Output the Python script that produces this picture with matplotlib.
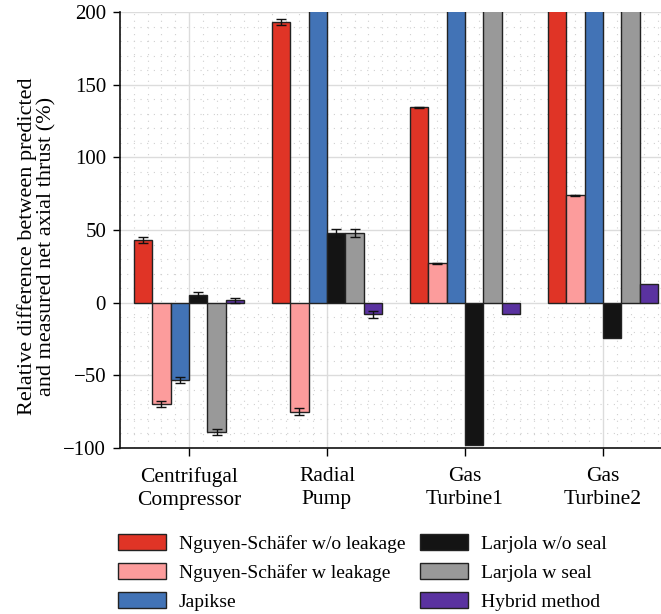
import matplotlib
matplotlib.use("Agg")
import matplotlib.pyplot as plt
import numpy as np
from matplotlib.ticker import MultipleLocator

categories = ["Centrifugal\nCompressor", "Radial\nPump", "Gas\nTurbine1", "Gas\nTurbine2"]
series_names = ["Nguyen-Schäfer w/o leakage", "Nguyen-Schäfer w leakage", "Japikse",
                "Larjola w/o seal", "Larjola w seal", "Hybrid method"]
colors = ["#e03426", "#fc9c9c", "#4273b6", "#141414", "#999999", "#5a32a0"]

ns_wo = [43, 193, 134.5, 260]
ns_w = [-70, -75, 27, 74]
japikse = [-53, 320, 300, 330]
larjola_wo = [5.5, 48, -98, -24]
larjola_w = [-89, 48, 290, 310]
hybrid = [1.5, -8, -8, 12.5]

err_ns_wo = [2, 2, 0.3, 0]
err_ns_w = [2, 2.5, 0.3, 0.3]
err_japikse = [2, 0, 0, 0]
err_larjola_wo = [2, 2.5, 0, 0]
err_larjola_w = [2, 2.5, 0, 0]
err_hybrid = [2, 2.5, 0, 0]

values = [ns_wo, ns_w, japikse, larjola_wo, larjola_w, hybrid]
errors = [err_ns_wo, err_ns_w, err_japikse, err_larjola_wo, err_larjola_w, err_hybrid]

plt.rcParams['font.family'] = ['Liberation Serif', 'DejaVu Serif']

fig = plt.figure(figsize=(6.61, 6.14), dpi=100)
W, H = 661, 614
left, right, top, bottom = 120, 672, 12, 448
ax = fig.add_axes([left / W, 1 - bottom / H, (right - left) / W, (bottom - top) / H])

x = np.arange(len(categories))
n = len(values)
bw = 0.8 / n
for i, (vals, errs, c) in enumerate(zip(values, errors, colors)):
    pos = x - 0.4 + bw * (i + 0.5)
    ax.bar(pos, vals, width=bw, color=c, edgecolor="#222222", linewidth=1.0,
           label=series_names[i], zorder=3)
    ev = np.array(vals, dtype=float)
    ee = np.array(errs, dtype=float)
    mask = ee > 0
    ax.errorbar(pos[mask], ev[mask], yerr=ee[mask], fmt="none", ecolor="#111111",
                elinewidth=1.0, capsize=3.5, capthick=1.0, zorder=4)

ax.set_xlim(-0.5, 3.5)
ax.set_ylim(-100, 200)
ax.set_xticks(x)
ax.set_xticklabels(categories, fontsize=15.5, linespacing=1.25)
ax.yaxis.set_minor_locator(MultipleLocator(10))
ax.xaxis.set_minor_locator(MultipleLocator(0.1))
ax.set_yticks([-100, -50, 0, 50, 100, 150, 200])
ax.set_yticklabels(["\u2212100", "\u221250", "0", "50", "100", "150", "200"], fontsize=15)
ax.tick_params(axis="both", which="minor", length=0)
ax.tick_params(axis="x", which="major", length=6, width=1, pad=8)
ax.tick_params(axis="y", which="major", length=5, width=1, pad=5)

ax.grid(True, which="major", color="#dcdcdc", linewidth=1.0, zorder=0)
ax.grid(True, which="minor", color="#d0d0d0", linewidth=0.8, linestyle=(0, (1, 5)), zorder=0)
ax.set_axisbelow(True)

for s in ["top", "right"]:
    ax.spines[s].set_visible(False)
for s in ["left", "bottom"]:
    ax.spines[s].set_linewidth(1.2)
    ax.spines[s].set_color("#111111")

ax.set_ylabel("Relative difference between predicted\nand measured net axial thrust (%)",
              fontsize=16, linespacing=1.0)
ax.yaxis.set_label_coords(-64 / (right - left), (bottom - 246) / (bottom - top))

handles, labels = ax.get_legend_handles_labels()
leg = fig.legend(handles, labels, loc="upper left", bbox_to_anchor=(118 / W, 1 - 534 / H),
                 ncol=2, frameon=False, fontsize=14, handlelength=2.47, handleheight=0.88,
                 handletextpad=0.67, columnspacing=0.75, labelspacing=0.53, borderpad=0,
                 borderaxespad=0)

fig.savefig("out.png", dpi=100)
